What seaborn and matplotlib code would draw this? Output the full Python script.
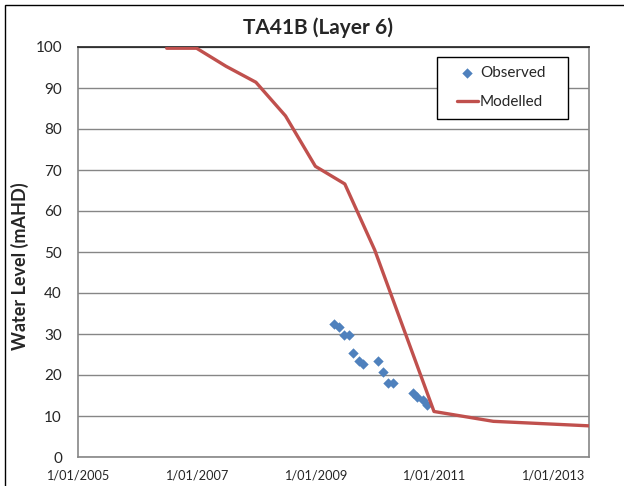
import matplotlib
matplotlib.use('Agg')
import matplotlib.pyplot as plt
from matplotlib.patches import Rectangle
import seaborn as sns
import pandas as pd

# ---- data ----
model_dates = ['2006-07-01', '2007-01-01', '2007-07-01', '2008-01-01', '2008-07-01',
               '2009-01-01', '2009-07-01', '2010-01-01', '2011-01-01', '2012-01-01',
               '2013-08-12']
model_levels = [99.7, 99.7, 95.3, 91.4, 83.2, 70.9, 66.6, 50.5, 11.1, 8.7, 7.6]

obs_dates = ['2009-04-23', '2009-05-26', '2009-06-28', '2009-07-27', '2009-08-22',
             '2009-09-24', '2009-10-23', '2010-01-22', '2010-02-20', '2010-03-25',
             '2010-04-23', '2010-08-22', '2010-09-20', '2010-10-23', '2010-11-18']
obs_levels = [32.4, 31.8, 29.8, 29.8, 25.4, 23.5, 22.7, 23.5, 20.7, 18.1,
              18.1, 15.6, 14.6, 13.8, 12.8]

xtick_dates = ['2005-01-01', '2007-01-01', '2009-01-01', '2011-01-01', '2013-01-01']
xtick_labels = ['1/01/2005', '1/01/2007', '1/01/2009', '1/01/2011', '1/01/2013']
ytick_values = [0, 10, 20, 30, 40, 50, 60, 70, 80, 90, 100]

title = 'TA41B (Layer 6)'
ylabel = 'Water Level (mAHD)'

# ---- plot ----
sns.set_style('white')
plt.rcParams['font.family'] = ['Lato', 'DejaVu Sans']

model_df = pd.DataFrame({'date': pd.to_datetime(model_dates), 'level': model_levels})
obs_df = pd.DataFrame({'date': pd.to_datetime(obs_dates), 'level': obs_levels})

W, H = 624, 486
fig = plt.figure(figsize=(W / 100, H / 100), dpi=100)
ax_l, ax_r, ax_t, ax_b = 78, 589, 47, 457
ax = fig.add_axes([ax_l / W, 1 - ax_b / H, (ax_r - ax_l) / W, (ax_b - ax_t) / H])

ax.set_ylim(0, 100)
ax.set_xlim(pd.Timestamp('2005-01-01'), pd.Timestamp('2013-08-12'))
ax.set_yticks(ytick_values)
ax.yaxis.grid(True, color='#868686', linewidth=1)
ax.xaxis.grid(False)
ax.set_axisbelow(True)

sns.scatterplot(data=obs_df, x='date', y='level', ax=ax, marker='D', s=28,
                color='#4F81BD', edgecolor='#4F81BD', linewidth=0, label='Observed', zorder=3)
sns.lineplot(data=model_df, x='date', y='level', ax=ax, color='#C0504D',
             linewidth=2.4, label='Modelled', zorder=4)

ax.set_xticks(pd.to_datetime(xtick_dates))
ax.set_xticklabels(xtick_labels)
ax.tick_params(axis='x', labelsize=9.2, pad=9, length=0)
ax.tick_params(axis='y', labelsize=11, pad=11.5, length=0)
ax.set_xlabel('')
ax.set_ylabel(ylabel, fontsize=13, fontweight='bold', labelpad=0)
ax.yaxis.set_label_coords((29 - ax_l) / (ax_r - ax_l), (ax_b - 266) / (ax_b - ax_t),
                          transform=ax.transAxes)

for s in ['left', 'right', 'bottom']:
    ax.spines[s].set_color('#868686')
    ax.spines[s].set_linewidth(1.2)
ax.spines['top'].set_color('#202020')
ax.spines['top'].set_linewidth(1.2)

fig.text(318 / W, 1 - 28 / H, title, ha='center', va='center',
         fontsize=15, fontweight='bold')

# legend: entries without frame, box drawn separately to match the reference
leg = ax.legend(loc='upper left',
                bbox_to_anchor=((457 - ax_l) / (ax_r - ax_l), (ax_b - 66) / (ax_b - ax_t)),
                frameon=False, fontsize=11, borderpad=0, labelspacing=1.0,
                handlelength=1.35, handletextpad=0.15, borderaxespad=0)
ax.add_patch(Rectangle(((437 - ax_l) / (ax_r - ax_l), (ax_b - 119) / (ax_b - ax_t)),
                       (568 - 437) / (ax_r - ax_l), (119 - 57) / (ax_b - ax_t),
                       transform=ax.transAxes, facecolor='white', edgecolor='black',
                       linewidth=1.0, zorder=5))
leg.set_zorder(6)

fig.add_artist(Rectangle((5 / W, -0.5), 2, 1.5 - 5 / H, fill=False,
                         edgecolor='black', linewidth=1.0, transform=fig.transFigure))

fig.savefig('out.png', dpi=100)
